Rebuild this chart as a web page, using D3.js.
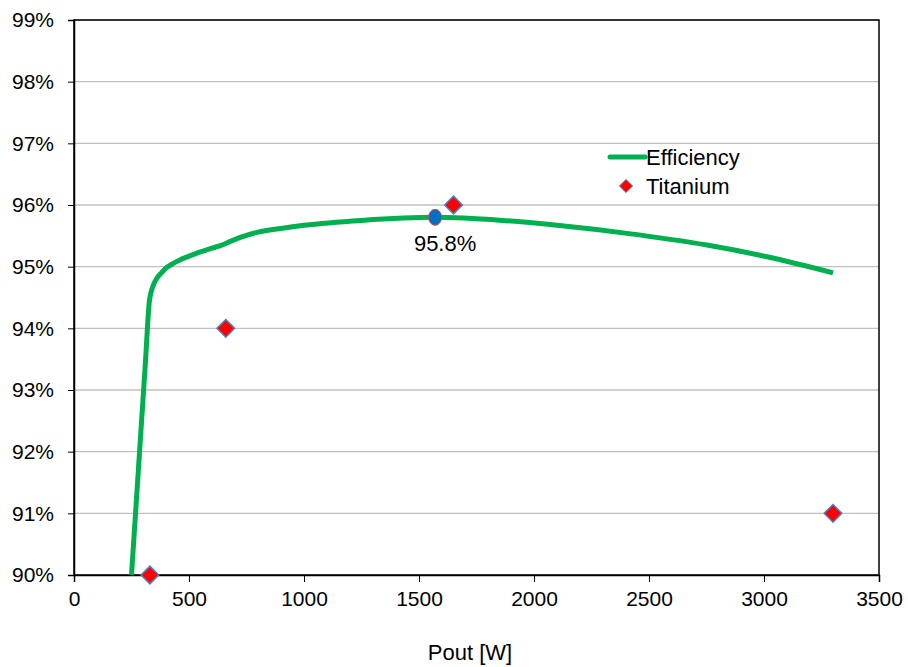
<!DOCTYPE html>
<html><head><meta charset="utf-8">
<script src="https://cdn.jsdelivr.net/npm/d3@7"></script>
<style>body{margin:0;background:#fff}text{font-family:"Liberation Sans",Arial,sans-serif}</style>
</head><body><svg id="c" width="908" height="667"></svg>
<script>
const effX = [250,270,290,310,328,336,346,360,380,404,430,460,500,550,600,650,680,720,800,900,1000,1250,1570,1861,2100,2404,2752,3013,3300];
const effY = [90.0,91.14,92.28,93.42,94.45,94.6,94.71,94.81,94.9,94.99,95.05,95.11,95.17,95.24,95.3,95.36,95.41,95.47,95.56,95.62,95.67,95.75,95.8,95.75,95.67,95.54,95.35,95.16,94.9];
const tiX = [330,660,1650,3300];
const tiY = [90,94,96,91];
const peakX = [1570];
const peakY = [95.8];
const peakLabel = ["95.8%"];
const xTicks = [0,500,1000,1500,2000,2500,3000,3500];
const yTicks = [90,91,92,93,94,95,96,97,98,99];

const svg = d3.select("#c");
const L=74,R=879,T=20,B=575;
const x = d3.scaleLinear().domain([0,3500]).range([L,R]);
const y = d3.scaleLinear().domain([90,99]).range([B,T]);

svg.append("g").selectAll("line").data(yTicks.slice(1)).join("line")
 .attr("x1",L).attr("x2",R).attr("y1",d=>y(d)).attr("y2",d=>y(d))
 .attr("stroke","#c0c0c0").attr("stroke-width",1.3);
svg.append("rect").attr("x",L).attr("y",T).attr("width",R-L).attr("height",B-T)
 .attr("fill","none").attr("stroke","#000").attr("stroke-width",1.5);

const xa = svg.append("g").attr("transform",`translate(0,${B})`)
 .call(d3.axisBottom(x).tickValues(xTicks).tickSize(7).tickPadding(9).tickFormat(d3.format("d")));
const ya = svg.append("g").attr("transform",`translate(${L},0)`)
 .call(d3.axisLeft(y).tickValues(yTicks).tickSize(6).tickPadding(14).tickFormat(d=>d+"%"));
[xa,ya].forEach(a=>{a.select(".domain").attr("stroke","#000").attr("stroke-width",1.5);
 a.selectAll(".tick line").attr("stroke","#000").attr("stroke-width",1);
 a.selectAll("text").attr("font-size",21).attr("fill","#000").attr("font-family","Liberation Sans, Arial, sans-serif");});

const pts = effX.map((v,i)=>[v,effY[i]]);
svg.append("path").datum(pts)
 .attr("d",d3.line().x(d=>x(d[0])).y(d=>y(d[1])).curve(d3.curveMonotoneX))
 .attr("fill","none").attr("stroke","#00b050").attr("stroke-width",5).attr("stroke-linejoin","round");

const dia = d3.symbol().type(d3.symbolDiamond2).size(200);
svg.append("g").selectAll("path").data(tiX.map((v,i)=>[v,tiY[i]])).join("path")
 .attr("d",dia).attr("transform",d=>`translate(${x(d[0])},${y(d[1])})`)
 .attr("fill","#ff0000").attr("stroke","#4f81bd").attr("stroke-width",1.5);

svg.append("g").selectAll("ellipse").data(peakX.map((v,i)=>[v,peakY[i]])).join("ellipse")
 .attr("cx",d=>x(d[0])).attr("cy",d=>y(d[1])).attr("rx",6.5).attr("ry",8)
 .attr("fill","#0070c0").attr("stroke","#c0504d").attr("stroke-width",1);
svg.append("g").selectAll("text").data(peakX.map((v,i)=>[v,peakY[i],peakLabel[i]])).join("text")
 .attr("x",d=>x(d[0])+10).attr("y",d=>y(d[1])+34).attr("text-anchor","middle")
 .attr("font-size",22).text(d=>d[2]);

svg.append("line").attr("x1",610).attr("x2",645).attr("y1",157).attr("y2",157)
 .attr("stroke","#00b050").attr("stroke-width",5).attr("stroke-linecap","round");
svg.append("text").attr("x",646).attr("y",165).attr("font-size",22).text("Efficiency");
svg.append("path").attr("d",d3.symbol().type(d3.symbolDiamond2).size(110))
 .attr("transform","translate(626,186)").attr("fill","#ff0000").attr("stroke","#4f81bd").attr("stroke-width",1);
svg.append("text").attr("x",646).attr("y",194).attr("font-size",22).text("Titanium");

svg.append("text").attr("x",470).attr("y",660).attr("text-anchor","middle").attr("font-size",22).text("Pout [W]");
</script></body></html>
